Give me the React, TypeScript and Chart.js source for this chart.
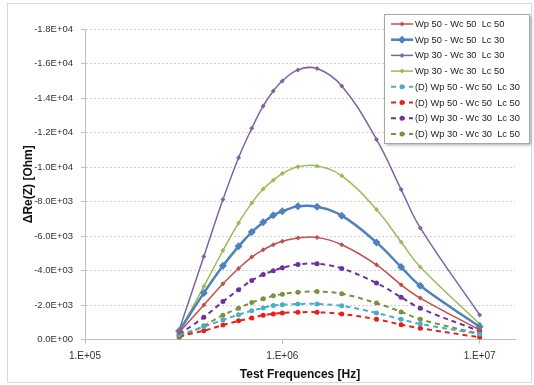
import React, { useEffect, useRef } from 'react';
import { Chart, registerables } from 'chart.js';

Chart.register(...registerables);

// Test frequencies [Hz]
const FREQS = [3e5, 4e5, 5e5, 6e5, 7e5, 8e5, 9e5, 1e6, 1.2e6, 1.5e6, 2e6, 3e6, 4e6, 5e6, 1e7];

const X_TICKS = [1e5, 1e6, 1e7];
const Y_MIN = -18000;
const Y_MAX = 0;
const Y_STEP = 2000;

const LABELS = [
  'Wp 50 - Wc 50  Lc 50',
  'Wp 50 - Wc 50  Lc 30',
  'Wp 30 - Wc 30  Lc 30',
  'Wp 30 - Wc 30  Lc 50',
  '(D) Wp 50 - Wc 50  Lc 30',
  '(D) Wp 50 - Wc 50  Lc 50',
  '(D) Wp 30 - Wc 30  Lc 30',
  '(D) Wp 30 - Wc 30  Lc 50',
];

// ΔRe(Z) [Ohm]
const WP50_WC50_LC50 = [-400, -2000, -3230, -4120, -4780, -5200, -5490, -5690, -5880, -5920, -5490, -4330, -3170, -2400, -550];
const WP50_WC50_LC30 = [-500, -2690, -4270, -5400, -6230, -6790, -7200, -7430, -7720, -7690, -7180, -5630, -4200, -3110, -740];
const WP30_WC30_LC30 = [-550, -4810, -8110, -10540, -12240, -13540, -14410, -14990, -15630, -15710, -14700, -11600, -8690, -6470, -1420];
const WP30_WC30_LC50 = [-450, -3070, -5160, -6760, -7920, -8720, -9230, -9620, -10010, -10060, -9490, -7530, -5650, -4200, -900];
const D_WP50_WC50_LC30 = [-250, -740, -1130, -1440, -1670, -1830, -1970, -2010, -2060, -2060, -1950, -1540, -1170, -900, -320];
const D_WP50_WC50_LC50 = [-200, -510, -840, -1080, -1250, -1410, -1480, -1540, -1580, -1580, -1480, -1170, -860, -650, -130];
const D_WP30_WC30_LC30 = [-300, -1290, -2200, -2880, -3420, -3770, -3980, -4160, -4350, -4390, -4120, -3270, -2450, -1810, -480];
const D_WP30_WC30_LC50 = [-100, -790, -1410, -1810, -2140, -2360, -2530, -2630, -2740, -2780, -2650, -2110, -1600, -1170, -320];

const FONT = '"Liberation Sans", Arial, sans-serif';

function fmtY(v: number): string {
  if (v === 0) return '0.0E+00';
  const sign = v < 0 ? '-' : '';
  const a = Math.abs(v);
  const e = Math.floor(Math.log10(a) + 1e-9);
  const m = a / Math.pow(10, e);
  return sign + m.toFixed(1) + 'E+' + String(e).padStart(2, '0');
}

function fmtX(v: number): string {
  const e = Math.round(Math.log10(v));
  return '1.E+' + String(e).padStart(2, '0');
}

function drawMarker(ctx: CanvasRenderingContext2D, style: string, cx: number, cy: number, r: number, color: string) {
  ctx.save();
  ctx.setLineDash([]);
  ctx.fillStyle = color;
  ctx.beginPath();
  if (style === 'circle') {
    ctx.arc(cx, cy, r, 0, Math.PI * 2);
  } else {
    ctx.moveTo(cx, cy - r);
    ctx.lineTo(cx + r, cy);
    ctx.lineTo(cx, cy + r);
    ctx.lineTo(cx - r, cy);
    ctx.closePath();
  }
  ctx.fill();
  ctx.restore();
}

const legendPlugin = {
  id: 'boxLegend',
  afterDraw(chart: any) {
    const ctx: CanvasRenderingContext2D = chart.ctx;
    const x0 = 384, y0 = 14, w = 145, h = 129;
    ctx.save();
    ctx.shadowColor = 'rgba(0,0,0,0.35)';
    ctx.shadowOffsetX = 2;
    ctx.shadowOffsetY = 2;
    ctx.shadowBlur = 3;
    ctx.fillStyle = '#ffffff';
    ctx.fillRect(x0, y0, w, h);
    ctx.shadowColor = 'transparent';
    ctx.strokeStyle = '#A6A6A6';
    ctx.lineWidth = 1;
    ctx.strokeRect(x0 + 0.5, y0 + 0.5, w, h);
    chart.data.datasets.forEach((ds: any, i: number) => {
      const y = y0 + 10 + i * 15.7;
      ctx.save();
      ctx.strokeStyle = ds.borderColor;
      ctx.lineWidth = ds.borderWidth;
      ctx.setLineDash(ds.borderDash || []);
      ctx.beginPath();
      ctx.moveTo(391, y);
      ctx.lineTo(413, y);
      ctx.stroke();
      ctx.restore();
      drawMarker(ctx, ds.pointStyle, 402, y, ds.pointRadius, ds.borderColor);
      ctx.fillStyle = '#222';
      ctx.font = '9.3px ' + FONT;
      ctx.textBaseline = 'middle';
      ctx.textAlign = 'left';
      ctx.fillText(ds.label, 415, y + 0.5, 110);
    });
    ctx.restore();
  },
};

const framePlugin = {
  id: 'frame',
  beforeDraw(chart: any) {
    const ctx: CanvasRenderingContext2D = chart.ctx;
    ctx.save();
    ctx.fillStyle = '#fff';
    ctx.fillRect(0, 0, chart.width, chart.height);
    ctx.strokeStyle = '#D9D9D9';
    ctx.lineWidth = 1;
    ctx.strokeRect(7.5, 3.5, 524, 379);
    ctx.restore();
  },
};

export default function App() {
  const ref = useRef<HTMLCanvasElement>(null);

  useEffect(() => {
    const canvas = ref.current;
    if (!canvas) return;

    const mk = (label: string, values: number[], color: string, dashed: boolean, width: number, style: string, radius: number) => ({
      label,
      data: FREQS.map((f, i) => ({ x: f, y: values[i] })),
      borderColor: color,
      backgroundColor: color,
      borderWidth: width,
      borderDash: dashed ? [5, 4] : [],
      pointStyle: style,
      pointRadius: radius,
      pointBorderWidth: 0,
      pointBackgroundColor: color,
      tension: 0.4,
      fill: false,
    });

    const datasets = [
      mk(LABELS[0], WP50_WC50_LC50, '#C0504D', false, 1.5, 'rectRot', 2.5),
      mk(LABELS[1], WP50_WC50_LC30, '#4F81BD', false, 2.5, 'rectRot', 4),
      mk(LABELS[2], WP30_WC30_LC30, '#8064A2', false, 1.5, 'rectRot', 2.5),
      mk(LABELS[3], WP30_WC30_LC50, '#9BBB59', false, 1.5, 'rectRot', 2.5),
      mk(LABELS[4], D_WP50_WC50_LC30, '#4BACC6', true, 2, 'circle', 2.5),
      mk(LABELS[5], D_WP50_WC50_LC50, '#E8201A', true, 2, 'circle', 2.5),
      mk(LABELS[6], D_WP30_WC30_LC30, '#7030A0', true, 2, 'circle', 2.5),
      mk(LABELS[7], D_WP30_WC30_LC50, '#77933C', true, 2, 'circle', 2.5),
    ];

    const chart = new Chart(canvas, {
      type: 'line',
      data: { datasets: datasets as any },
      options: {
        responsive: false,
        animation: false,
        devicePixelRatio: 1,
        layout: { padding: { top: 29, right: 19, left: 0, bottom: 0 } },
        plugins: { legend: { display: false }, tooltip: { enabled: false } },
        scales: {
          x: {
            type: 'logarithmic',
            min: 1e5,
            max: 1.51e7,
            afterBuildTicks: (scale: any) => {
              scale.ticks = X_TICKS.map((v) => ({ value: v }));
            },
            afterFit: (scale: any) => {
              scale.height = 45.5;
            },
            grid: { display: true, drawOnChartArea: false, drawTicks: true, tickLength: 4, color: '#BFBFBF', tickColor: '#BFBFBF' },
            border: { display: true, color: '#BFBFBF', width: 1 },
            ticks: {
              autoSkip: false,
              maxRotation: 0,
              padding: 7,
              color: '#333',
              font: { family: FONT, size: 10 },
              callback: (v: any) => fmtX(Number(v)),
            },
            title: {
              display: true,
              text: 'Test Frequences [Hz]',
              color: '#111',
              font: { family: FONT, size: 12, weight: 'bold' },
              padding: { top: 0, bottom: 3 },
            },
          },
          y: {
            type: 'linear',
            min: Y_MIN,
            max: Y_MAX,
            reverse: true,
            afterFit: (scale: any) => {
              scale.width = 85;
            },
            grid: { display: true, drawTicks: true, tickLength: 4, color: '#CFCFCF', tickColor: '#BFBFBF', lineWidth: 1 },
            border: { display: true, color: '#BFBFBF', width: 1, dash: [2, 2] },
            ticks: {
              stepSize: Y_STEP,
              padding: 8,
              color: '#333',
              font: { family: FONT, size: 9.5 },
              callback: (v: any) => fmtY(Number(v)),
            },
            title: {
              display: true,
              text: 'ΔRe(Z) [Ohm]',
              color: '#111',
              font: { family: FONT, size: 12, weight: 'bold' },
              padding: { top: 21, bottom: 0 },
            },
          },
        },
      } as any,
      plugins: [framePlugin, legendPlugin],
    });

    return () => chart.destroy();
  }, []);

  return (
    <div style={{ position: 'absolute', left: 0, top: 0, width: 534, height: 385, background: '#fff' }}>
      <canvas ref={ref} width={534} height={385} style={{ display: 'block', width: 534, height: 385 }} />
    </div>
  );
}
